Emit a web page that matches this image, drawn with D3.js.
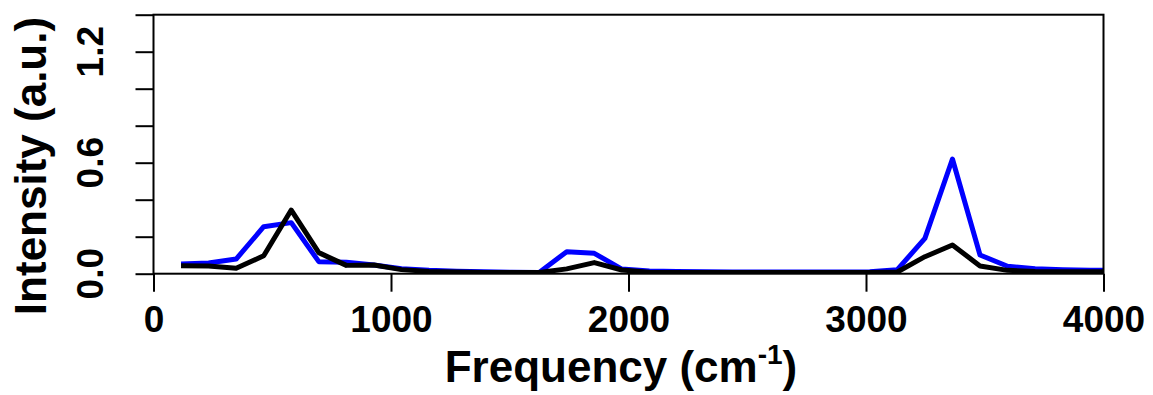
<!DOCTYPE html>
<html><head><meta charset="utf-8">
<script src="https://cdn.jsdelivr.net/npm/d3@7"></script>
<style>
html,body{margin:0;padding:0;background:#fff;}
svg{display:block;font-family:"Liberation Sans",Arial,sans-serif;font-weight:bold;}
</style></head>
<body>
<svg id="chart" width="1153" height="395"></svg>
<script>
const frequency = [116,232,348,464,580,696,812,928,1044,1160,1276,1392,1508,1624,1740,1856,1972,2088,2204,2320,2436,2552,2668,2784,2900,3016,3132,3248,3364,3480,3596,3712,3828,3944,4060];
const blueSeries = [0.052,0.058,0.079,0.254,0.276,0.065,0.062,0.047,0.027,0.018,0.013,0.010,0.008,0.007,0.119,0.110,0.025,0.015,0.012,0.010,0.009,0.009,0.009,0.009,0.009,0.011,0.022,0.191,0.620,0.101,0.040,0.027,0.022,0.019,0.018];
const blackSeries = [0.043,0.042,0.029,0.097,0.344,0.114,0.045,0.047,0.022,0.012,0.009,0.007,0.006,0.006,0.026,0.060,0.020,0.008,0.006,0.006,0.006,0.006,0.006,0.006,0.006,0.007,0.009,0.092,0.155,0.042,0.018,0.012,0.010,0.010,0.010];
const xTicks = [0,1000,2000,3000,4000];
const yTicks = [0,0.2,0.4,0.6,0.8,1.0,1.2,1.4];
const yTickLabels = [0,0.6,1.2];

const svg = d3.select("#chart");
const L = 153.5, R = 1103.5, T = 14.7, B = 273.7;
const x = d3.scaleLinear().domain([0,4000]).range([L,R]);
const y = d3.scaleLinear().domain([0,1.4]).range([B,T]);

svg.append("defs").append("clipPath").attr("id","clip")
  .append("rect").attr("x",L).attr("y",T).attr("width",R-L).attr("height",B-T);

const line = d3.line().x((d,i)=>x(frequency[i])).y(d=>y(d));
const g = svg.append("g").attr("clip-path","url(#clip)");
g.append("path").datum(blueSeries).attr("d",line).attr("fill","none")
  .attr("stroke","#0000ff").attr("stroke-width",5).attr("stroke-linejoin","round");
g.append("path").datum(blackSeries).attr("d",line).attr("fill","none")
  .attr("stroke","#000").attr("stroke-width",5).attr("stroke-linejoin","round");

// box
svg.append("rect").attr("x",L).attr("y",T).attr("width",R-L).attr("height",B-T)
  .attr("fill","none").attr("stroke","#000").attr("stroke-width",2);

// x axis
const xAxis = d3.axisBottom(x).tickValues(xTicks).tickSize(18).tickPadding(14).tickFormat(d3.format("d"));
const gx = svg.append("g").attr("transform",`translate(0,${B})`).call(xAxis);
gx.select(".domain").remove();
gx.selectAll(".tick line").attr("stroke","#000").attr("stroke-width",2);
gx.selectAll(".tick text").attr("font-size",37).attr("font-weight","bold")
  .attr("font-family","Liberation Sans, Arial, sans-serif").attr("fill","#000");

// y axis
const yAxis = d3.axisLeft(y).tickValues(yTicks).tickSize(18).tickFormat("");
const gy = svg.append("g").attr("transform",`translate(${L},0)`).call(yAxis);
gy.select(".domain").remove();
gy.selectAll(".tick line").attr("stroke","#000").attr("stroke-width",2);
svg.append("g").selectAll("text").data(yTickLabels).join("text")
  .attr("transform",d=>`translate(103,${y(d)}) rotate(-90)`)
  .attr("text-anchor","middle").attr("font-size",37).attr("fill","#000")
  .text(d=>d3.format(".1f")(d));

// x title
const xt = svg.append("text").attr("x",621).attr("y",382).attr("text-anchor","middle")
  .attr("font-size",44).attr("fill","#000");
xt.append("tspan").text("Frequency (cm");
xt.append("tspan").attr("font-size",28).attr("dy",-18).text("-1");
xt.append("tspan").attr("dy",18).text(")");

// y title
svg.append("text").attr("transform","translate(46,166) rotate(-90)")
  .attr("text-anchor","middle").attr("font-size",44).attr("fill","#000")
  .text("Intensity (a.u.)");
</script>
</body></html>
